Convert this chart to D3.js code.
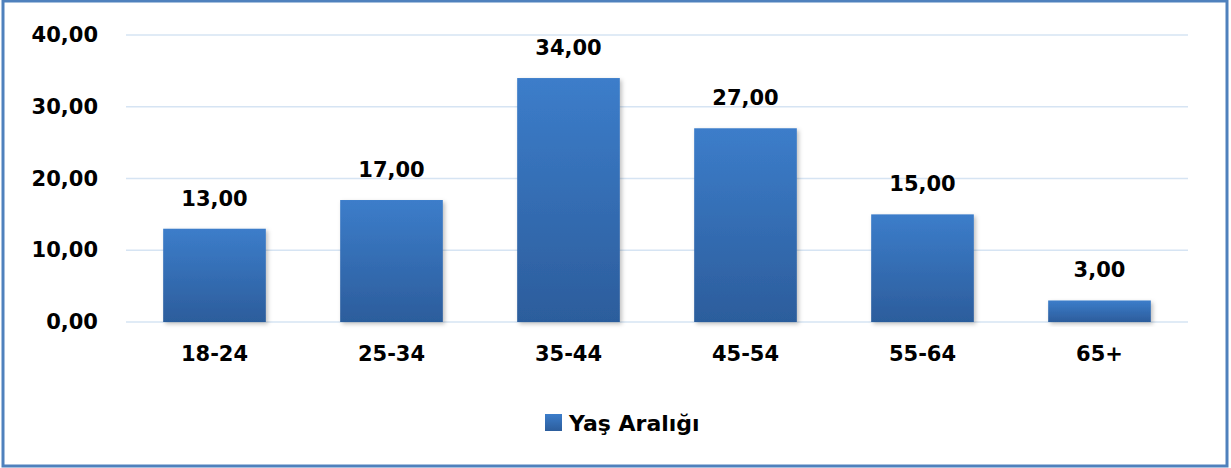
<!DOCTYPE html>
<html><head><meta charset="utf-8">
<script src="https://cdn.jsdelivr.net/npm/d3@7"></script>
<style>html,body{margin:0;padding:0;background:#fff;}svg{display:block;}</style>
</head><body>
<svg id="chart" width="1231" height="468"></svg>
<script>
const categories = ["18-24","25-34","35-44","45-54","55-64","65+"];
const values = [13, 17, 34, 27, 15, 3];
const yTicks = [0, 10, 20, 30, 40];
const seriesName = "Yaş Aralığı";

const svg = d3.select("#chart");
const W = 1231, H = 468;
const m = {left:126, right:43, top:35, bottom:146};
const fmt = v => d3.format(".2f")(v).replace(".", ",");
const font = "'DejaVu Sans', sans-serif";
const fs = 21;

const defs = svg.append("defs");
const g = defs.append("linearGradient").attr("id","barGrad").attr("x1",0).attr("y1",0).attr("x2",0).attr("y2",1);
g.append("stop").attr("offset","0%").attr("stop-color","#3c7dca");
g.append("stop").attr("offset","100%").attr("stop-color","#2c5d9c");
const f = defs.append("filter").attr("id","shadow").attr("x","-10%").attr("y","-10%").attr("width","130%").attr("height","130%");
f.append("feDropShadow").attr("dx",2).attr("dy",2).attr("stdDeviation",2).attr("flood-color","#000").attr("flood-opacity",0.25);

// border
svg.append("rect").attr("x",3).attr("y",1).attr("width",W-7).attr("height",H-3)
  .attr("fill","#fff").attr("stroke","#4f81bd").attr("stroke-width",3);

const x = d3.scaleBand().domain(categories).range([m.left, W - m.right]).paddingInner(0.42).paddingOuter(0.21);
const y = d3.scaleLinear().domain([0, 40]).range([H - m.bottom, m.top]);

// grid
svg.append("g").selectAll("line").data(yTicks).join("line")
  .attr("x1", m.left).attr("x2", W - m.right)
  .attr("y1", d => y(d)).attr("y2", d => y(d))
  .attr("stroke","#d6e4f3").attr("stroke-width",1.5);

// y axis labels
const yAxis = d3.axisLeft(y).tickValues(yTicks).tickFormat(fmt).tickSize(0).tickPadding(0);
const ya = svg.append("g").attr("transform",`translate(98,0)`).call(yAxis);
ya.select(".domain").remove();
ya.selectAll("text").attr("font-family",font).attr("font-weight","bold").attr("font-size",fs).attr("fill","#000");

// bars
svg.append("g").selectAll("rect").data(values).join("rect")
  .attr("x",(d,i)=>x(categories[i])).attr("width",x.bandwidth())
  .attr("y",d=>y(d)).attr("height",d=>y(0)-y(d))
  .attr("fill","url(#barGrad)").attr("filter","url(#shadow)");

// value labels
svg.append("g").selectAll("text").data(values).join("text")
  .attr("x",(d,i)=>x(categories[i])+x.bandwidth()/2).attr("y",d=>y(d)-23)
  .attr("text-anchor","middle").attr("font-family",font).attr("font-weight","bold").attr("font-size",fs).attr("fill","#000")
  .text(fmt);

// x axis labels
const xAxis = d3.axisBottom(x).tickSize(0).tickPadding(0);
const xa = svg.append("g").attr("transform",`translate(0,${y(0)+26})`).call(xAxis);
xa.select(".domain").remove();
xa.selectAll("text").attr("font-family",font).attr("font-weight","bold").attr("font-size",fs).attr("fill","#000").attr("dy","0.6em");

// legend
const lg = svg.append("g").attr("transform","translate(545,414)");
lg.append("rect").attr("width",17).attr("height",17).attr("fill","url(#barGrad)");
lg.append("text").attr("x",24).attr("y",17).attr("font-family",font).attr("font-weight","bold").attr("font-size",fs+1).attr("fill","#000").text(seriesName);
</script>
</body></html>
